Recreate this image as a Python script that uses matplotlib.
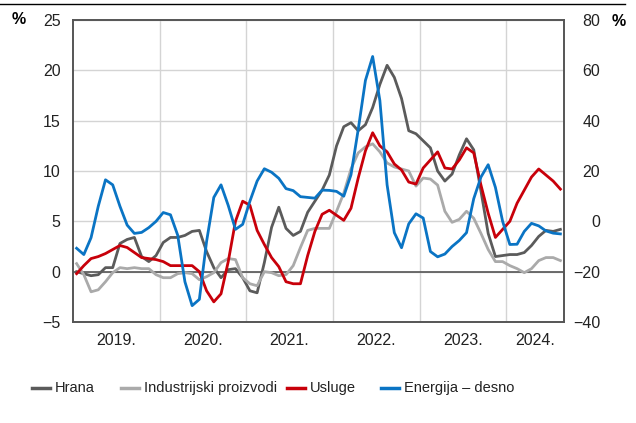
import numpy as np
import matplotlib
matplotlib.use('Agg')
import matplotlib.pyplot as plt
import pandas as pd

plt.rcParams['font.family'] = ['Liberation Sans', 'DejaVu Sans']

# monthly data, Jan 2019 - Aug 2024
months = pd.period_range('2019-01', periods=68, freq='M')

hrana = [0.0, -0.2, -0.4, -0.3, 0.4, 0.4, 2.8, 3.2, 3.4, 1.5, 1.0, 1.6,
         2.9, 3.4, 3.4, 3.6, 4.0, 4.1, 2.0, 0.4, -0.6, 0.2, 0.3, -0.6,
         -1.9, -2.1, 0.9, 4.4, 6.4, 4.3, 3.6, 4.0, 5.9, 7.0, 8.1, 9.6,
         12.5, 14.4, 14.8, 14.0, 14.6, 16.3, 18.6, 20.5, 19.3, 17.2, 14.0, 13.7,
         13.0, 12.3, 10.0, 9.0, 9.7, 11.6, 13.2, 12.1, 8.0, 3.8, 1.5, 1.6,
         1.7, 1.7, 1.9, 2.6, 3.5, 4.1, 4.0, 4.2]

industrija = [0.8, -0.3, -2.0, -1.8, -1.0, -0.1, 0.4, 0.3, 0.4, 0.3, 0.3, -0.3,
              -0.6, -0.6, -0.2, -0.1, -0.2, -0.8, -0.5, -0.1, 0.9, 1.3, 1.2, -0.6,
              -1.2, -1.4, 0.0, -0.1, -0.4, -0.3, 0.6, 2.4, 4.1, 4.3, 4.3, 4.3,
              6.0, 7.8, 10.2, 11.8, 12.4, 12.7, 11.9, 10.8, 10.4, 10.2, 10.0, 8.5,
              9.3, 9.2, 8.6, 6.0, 4.9, 5.2, 6.0, 5.3, 3.8, 2.2, 1.0, 1.0,
              0.6, 0.3, -0.1, 0.3, 1.1, 1.4, 1.4, 1.1]

usluge = [-0.2, 0.6, 1.3, 1.5, 1.8, 2.2, 2.6, 2.4, 1.9, 1.4, 1.3, 1.2,
          1.0, 0.6, 0.6, 0.6, 0.6, 0.0, -1.9, -3.0, -2.2, 1.0, 5.0, 7.0,
          6.6, 4.1, 2.7, 1.4, 0.5, -1.0, -1.2, -1.2, 1.6, 4.0, 5.7, 6.1,
          5.6, 5.1, 6.3, 9.3, 12.0, 13.8, 12.5, 11.9, 10.7, 10.1, 8.9, 8.7,
          10.3, 11.1, 11.9, 10.3, 10.2, 11.1, 12.3, 11.8, 8.6, 5.8, 3.4, 4.2,
          5.0, 6.8, 8.1, 9.4, 10.2, 9.6, 9.0, 8.2]

energija = [-10.7, -13.2, -6.5, 6.0, 16.5, 14.5, 6.0, -1.5, -4.8, -4.4, -2.5, 0.0,
            3.5, 2.6, -5.5, -24.0, -33.5, -31.0, -8.0, 9.5, 14.5, 6.3, -3.2, -1.2,
            8.0, 16.0, 20.9, 19.5, 17.1, 13.0, 12.2, 9.8, 9.5, 9.2, 12.4, 12.3,
            11.9, 10.0, 18.5, 36.5, 56.0, 65.5, 48.0, 14.5, -4.5, -10.5, -1.0, 3.0,
            1.3, -12.0, -14.1, -13.0, -10.0, -7.6, -4.5, 9.0, 17.6, 22.5, 13.5, 0.0,
            -9.2, -9.1, -4.0, -0.8, -1.8, -3.8, -4.7, -5.0]

labels = ['Hrana', 'Industrijski proizvodi', 'Usluge', 'Energija – desno']
colors = ['#5b5b5b', '#aaaaaa', '#c8000a', '#0a74c4']

x = np.arange(len(months))
years = sorted(set(months.year))

fig = plt.figure(figsize=(6.36, 4.23), dpi=100)
ax = fig.add_axes([73 / 636, 1 - 322 / 423, (564 - 73) / 636, (322 - 20) / 423])
ax2 = ax.twinx()

lw = 2.0
l1, = ax.plot(x, hrana, color=colors[0], lw=lw)
l2, = ax.plot(x, industrija, color=colors[1], lw=lw)
l3, = ax.plot(x, usluge, color=colors[2], lw=lw)
l4, = ax2.plot(x, energija, color=colors[3], lw=lw)

ax.set_xlim(-0.5, len(months) - 0.5)
ax.set_ylim(-5, 25)
ax2.set_ylim(-40, 80)
ax.set_yticks(np.arange(-5, 26, 5))
ax2.set_yticks(np.arange(-40, 81, 20))

# year boundaries as grid, year names centred in each span
bounds = [np.where(months.year == yr)[0][0] - 0.5 for yr in years] + [len(months) - 0.5]
ax.set_xticks(bounds[1:-1])
ax.set_xticklabels([])
centres = [(bounds[i] + bounds[i + 1]) / 2 for i in range(len(years))]
ax.set_xticks(centres, minor=True)
ax.set_xticklabels([f'{yr}.' for yr in years], minor=True)

ax.grid(True, color='#d4d4d4', lw=1.0)
ax.set_axisbelow(True)
ax.axhline(0, color='#555555', lw=1.2, zorder=1.5)

fs = 11.5
ax.tick_params(axis='both', which='both', length=0, labelsize=fs, colors='#222222')
ax.tick_params(axis='y', pad=9)
ax.tick_params(axis='x', which='minor', pad=8)
ax2.tick_params(axis='y', length=0, labelsize=fs, colors='#222222', pad=26)
for t in ax2.get_yticklabels():
    t.set_horizontalalignment('right')

for a in (ax, ax2):
    for s in a.spines.values():
        s.set_color('#555555')
        s.set_linewidth(1.2)

fig.text(12 / 636, 1 - 20 / 423, '%', fontsize=fs, fontweight='bold', va='center', ha='left')
fig.text(612 / 636, 1 - 21 / 423, '%', fontsize=fs, fontweight='bold', va='center', ha='left')

# thin rule at the top
fig.add_artist(plt.Line2D([0, 625 / 636], [1 - 4 / 423, 1 - 4 / 423], color='black', lw=1.0))

# legend entries placed like the original (handle start in px)
leg_x = [32, 121, 287, 381]
leg_y = 1 - 388 / 423
for px, lab, col in zip(leg_x, labels, colors):
    fig.add_artist(plt.Line2D([px / 636, (px + 18) / 636], [leg_y, leg_y], color=col, lw=2.5))
    fig.text((px + 23) / 636, leg_y, lab, fontsize=10.5, va='center', ha='left', color='#222222')

fig.savefig('out.png', dpi=100)
